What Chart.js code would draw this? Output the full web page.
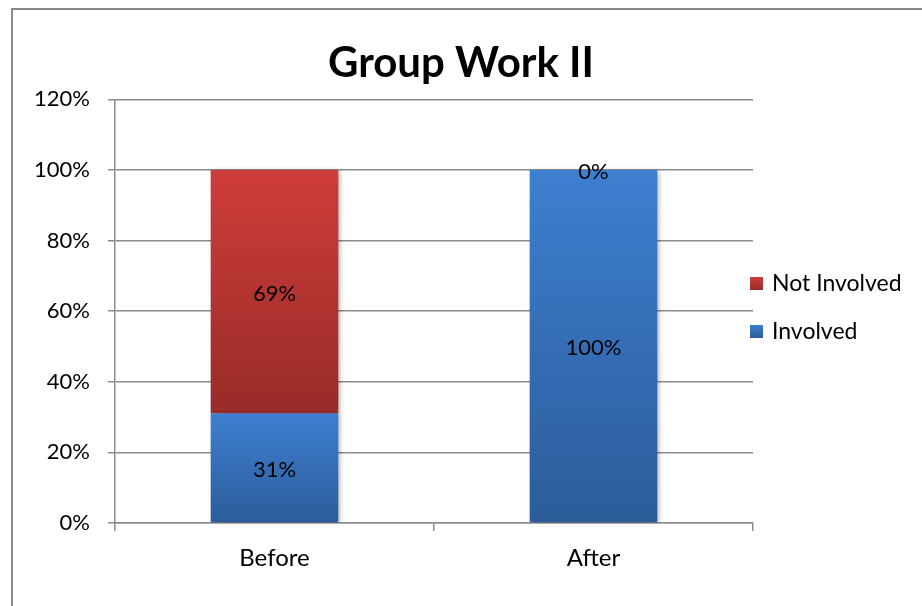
<!DOCTYPE html>
<html>
<head>
<meta charset="utf-8">
<title>Group Work II</title>
<script src="https://cdn.jsdelivr.net/npm/chart.js@4"></script>
<style>
  html, body { margin: 0; padding: 0; background: #fff; }
  #frame {
    position: absolute; left: 11px; top: 8px; width: 1000px; height: 700px;
    border-left: 2px solid #8a8a8a; border-top: 2px solid #8a8a8a;
  }
  #wrap { position: absolute; left: 0; top: 0; width: 922px; height: 606px; }
</style>
</head>
<body>
<div id="frame"></div>
<div id="wrap"><canvas id="chart" width="922" height="606"></canvas></div>
<script>
// data
const categories = ['Before', 'After'];
const involved = [31, 100];
const notInvolved = [69, 0];
const yTicks = [0, 20, 40, 60, 80, 100, 120];

const FONT = 'Lato';
Chart.defaults.font.family = FONT;
Chart.defaults.color = '#000';

// top/bottom colours of each series gradient
const blue = ['#3d7fd0', '#2c5c9a'];
const red = ['#cf3d3a', '#982b28'];

// vertical gradient spanning one stacked segment
function segmentFill(colors, startArr, endArr) {
  return (c) => {
    const chart = c.chart;
    if (c.type !== 'data' || !chart.chartArea) return colors[0];
    const y = chart.scales.y;
    const i = c.dataIndex;
    const top = y.getPixelForValue(endArr(i));
    const bottom = y.getPixelForValue(startArr(i));
    if (!(bottom - top > 0.5)) return colors[0];
    const g = chart.ctx.createLinearGradient(0, top, 0, bottom);
    g.addColorStop(0, colors[0]);
    g.addColorStop(1, colors[1]);
    return g;
  };
}

// soft shadow under the bars
const barShadow = {
  id: 'barShadow',
  beforeDatasetsDraw(chart) {
    const ctx = chart.ctx;
    ctx.save();
    ctx.shadowColor = 'rgba(0,0,0,0.35)';
    ctx.shadowBlur = 5;
    ctx.shadowOffsetX = 2;
    ctx.shadowOffsetY = 1;
  },
  afterDatasetsDraw(chart) {
    chart.ctx.restore();
  }
};

// percentage labels in the middle of each segment
const valueLabels = {
  id: 'valueLabels',
  afterDatasetsDraw(chart) {
    const ctx = chart.ctx;
    ctx.save();
    ctx.font = '22px ' + FONT;
    ctx.fillStyle = '#000';
    ctx.textAlign = 'center';
    ctx.textBaseline = 'middle';
    chart.data.datasets.forEach((ds, di) => {
      chart.getDatasetMeta(di).data.forEach((bar, i) => {
        const mid = (bar.y + bar.base) / 2;
        ctx.fillText(ds.data[i] + '%', bar.x, mid + 2);
      });
    });
    ctx.restore();
  }
};

// legend at the right, top series first
const sideLegend = {
  id: 'sideLegend',
  afterDraw(chart) {
    const ctx = chart.ctx;
    const area = chart.chartArea;
    const items = chart.data.datasets.slice().reverse();
    const x = area.right - 3;
    let y = 283;
    ctx.save();
    ctx.font = '23px ' + FONT;
    ctx.textBaseline = 'middle';
    items.forEach((ds) => {
      const cols = ds.label === 'Involved' ? blue : red;
      const g = ctx.createLinearGradient(0, y - 6, 0, y + 7);
      g.addColorStop(0, cols[0]);
      g.addColorStop(1, cols[1]);
      ctx.fillStyle = g;
      ctx.fillRect(x, y - 6, 13, 13);
      ctx.fillStyle = '#000';
      ctx.fillText(ds.label, x + 22, y + 1);
      y += 48;
    });
    ctx.restore();
  }
};

new Chart(document.getElementById('chart'), {
  type: 'bar',
  data: {
    labels: categories,
    datasets: [
      {
        label: 'Involved',
        data: involved,
        backgroundColor: segmentFill(blue, () => 0, (i) => involved[i])
      },
      {
        label: 'Not Involved',
        data: notInvolved,
        backgroundColor: segmentFill(red, (i) => involved[i], (i) => involved[i] + notInvolved[i])
      }
    ]
  },
  options: {
    responsive: false,
    animation: false,
    barPercentage: 0.4,
    categoryPercentage: 1,
    layout: { padding: 0 },
    plugins: {
      legend: { display: false },
      tooltip: { enabled: false },
      title: {
        display: true,
        text: 'Group Work II',
        font: { size: 42, weight: 'bold', family: FONT },
        color: '#000',
        padding: { top: 38, bottom: 11 }
      }
    },
    scales: {
      x: {
        stacked: true,
        grid: {
          offset: true,
          drawOnChartArea: false,
          drawTicks: true,
          tickLength: 8,
          color: '#8c8c8c',
          lineWidth: 1.5
        },
        border: { color: '#8c8c8c', width: 1.5 },
        ticks: { font: { size: 24 }, color: '#000', padding: 13 },
        afterFit(scale) { scale.height = 83; }
      },
      y: {
        stacked: true,
        min: 0,
        max: 120,
        afterBuildTicks(scale) { scale.ticks = yTicks.map((v) => ({ value: v })); },
        grid: { color: '#8c8c8c', lineWidth: 1.5, tickLength: 7 },
        border: { color: '#8c8c8c', width: 1.5 },
        ticks: {
          font: { size: 22 },
          color: '#000',
          padding: 18,
          callback: (v) => v + '%'
        },
        afterFit(scale) { scale.width = 115; }
      },
      // empty right-hand strip that leaves room for the legend
      legendSpace: {
        position: 'right',
        display: true,
        grid: { display: false, drawTicks: false },
        border: { display: false },
        ticks: { display: false },
        afterFit(scale) { scale.width = 169; }
      }
    }
  },
  plugins: [barShadow, valueLabels, sideLegend]
});
</script>
</body>
</html>
